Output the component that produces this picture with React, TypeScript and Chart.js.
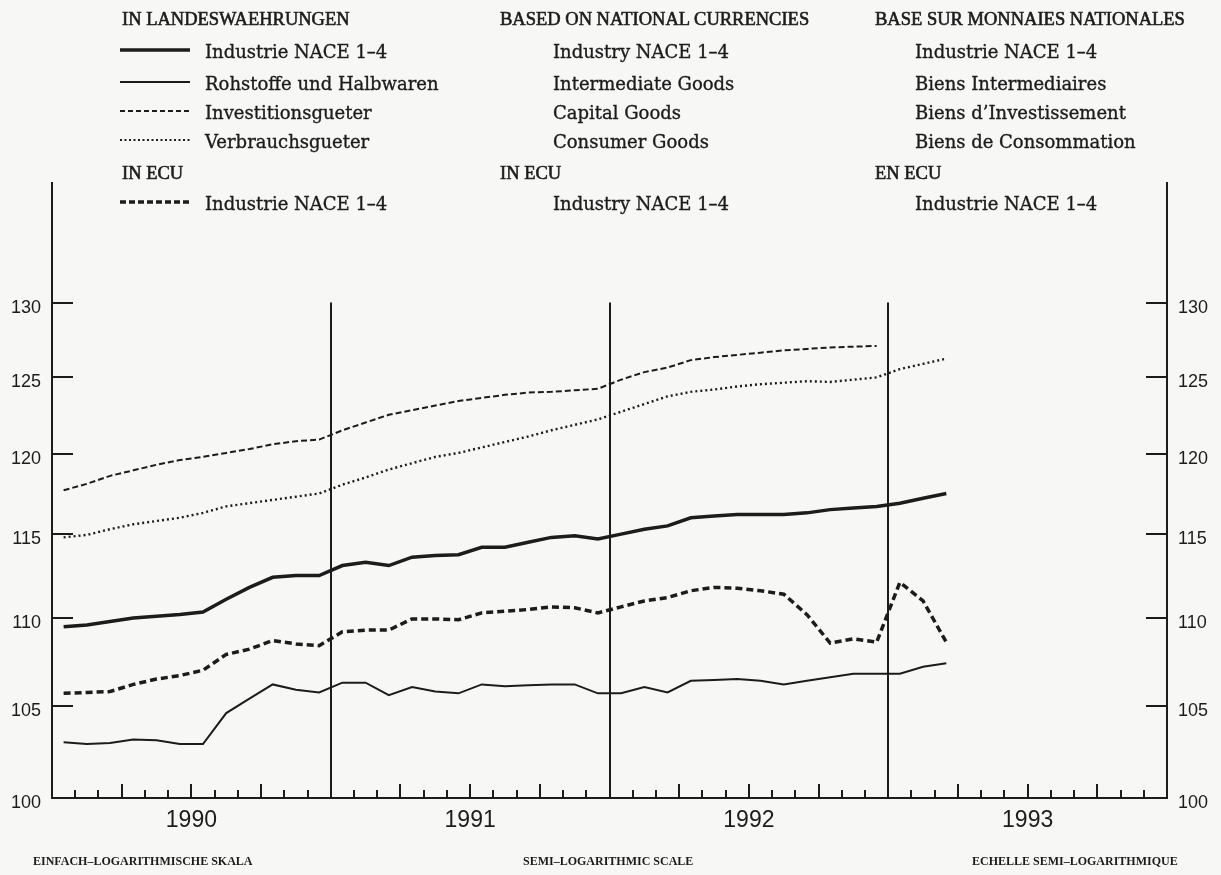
import React, { useEffect, useRef } from 'react';
import { Chart, registerables } from 'chart.js';

Chart.register(...registerables);

// ---------- data (monthly, Jan 1990 onwards) ----------
const years = ['1990', '1991', '1992', '1993'];
const yTicks = [100, 105, 110, 115, 120, 125, 130];

const industrie = [
  109.5, 109.6, 109.8, 110.0, 110.1, 110.2, 110.35, 111.1, 111.8, 112.4, 112.5, 112.5,
  113.1, 113.3, 113.1, 113.6, 113.7, 113.75, 114.2, 114.2, 114.5, 114.8, 114.9, 114.7,
  115.0, 115.3, 115.5, 116.0, 116.1, 116.2, 116.2, 116.2, 116.3, 116.5, 116.6, 116.7,
  116.9, 117.2, 117.5,
];
const rohstoffe = [
  103.0, 102.9, 102.95, 103.15, 103.1, 102.9, 102.9, 104.6, 105.4, 106.2, 105.9, 105.75,
  106.3, 106.3, 105.6, 106.05, 105.8, 105.7, 106.2, 106.1, 106.15, 106.2, 106.2, 105.7,
  105.7, 106.05, 105.75, 106.4, 106.45, 106.5, 106.4, 106.2, 106.4, 106.6, 106.8, 106.8,
  106.8, 107.2, 107.4,
];
const investition = [
  117.7, 118.1, 118.6, 118.95, 119.3, 119.6, 119.8, 120.05, 120.3, 120.6, 120.8, 120.9,
  121.5, 122.0, 122.5, 122.8, 123.1, 123.4, 123.6, 123.8, 123.95, 124.0, 124.1, 124.2,
  124.8, 125.3, 125.6, 126.1, 126.3, 126.45, 126.6, 126.75, 126.85, 126.95, 127.0, 127.05,
];
const verbrauch = [
  114.8, 114.95, 115.3, 115.6, 115.8, 116.0, 116.3, 116.7, 116.9, 117.1, 117.3, 117.5,
  118.05, 118.5, 119.0, 119.4, 119.8, 120.05, 120.4, 120.75, 121.1, 121.5, 121.85, 122.2,
  122.7, 123.2, 123.7, 124.0, 124.15, 124.35, 124.5, 124.6, 124.7, 124.65, 124.8, 124.95,
  125.5, 125.85, 126.2,
];
const ecu = [
  105.7, 105.75, 105.8, 106.2, 106.5, 106.7, 107.0, 107.9, 108.2, 108.7, 108.5, 108.4,
  109.2, 109.3, 109.3, 109.95, 109.95, 109.9, 110.3, 110.4, 110.5, 110.65, 110.6, 110.3,
  110.65, 111.0, 111.2, 111.6, 111.8, 111.75, 111.6, 111.4, 110.2, 108.55, 108.8, 108.6,
  112.1, 111.0, 108.6,
];

const headingsDE = ['IN LANDESWAEHRUNGEN', 'IN ECU'];
const headingsEN = ['BASED ON NATIONAL CURRENCIES', 'IN ECU'];
const headingsFR = ['BASE SUR MONNAIES NATIONALES', 'EN ECU'];
const itemsDE = ['Industrie NACE 1\u20134', 'Rohstoffe und Halbwaren', 'Investitionsgueter', 'Verbrauchsgueter', 'Industrie NACE 1\u20134'];
const itemsEN = ['Industry NACE 1\u20134', 'Intermediate Goods', 'Capital Goods', 'Consumer Goods', 'Industry NACE 1\u20134'];
const itemsFR = ['Industrie NACE 1\u20134', 'Biens Intermediaires', 'Biens d\u2019Investissement', 'Biens de Consommation', 'Industrie NACE 1\u20134'];
const captions = ['EINFACH\u2013LOGARITHMISCHE SKALA', 'SEMI\u2013LOGARITHMIC SCALE', 'ECHELLE SEMI\u2013LOGARITHMIQUE'];

const INK = '#1c1c1c';
const W = 1221;
const H = 875;

const toPoints = (arr: number[]) => arr.map((v, i) => ({ x: i + 0.5, y: v }));

const decorPlugin = {
  id: 'decor',
  afterDatasetsDraw(chart: any) {
    const { ctx, chartArea, scales } = chart;
    const x = scales.x;
    const y = scales.y;
    ctx.save();
    ctx.strokeStyle = INK;
    ctx.lineWidth = 2;
    const bottom = chartArea.bottom;
    for (let k = 1; k < 48; k++) {
      const px = Math.round(x.getPixelForValue(k));
      let top: number;
      if (k % 12 === 0) top = y.getPixelForValue(130);
      else if (k % 3 === 0) top = bottom - 14;
      else top = bottom - 8;
      ctx.beginPath();
      ctx.moveTo(px, bottom);
      ctx.lineTo(px, top);
      ctx.stroke();
    }
    yTicks.forEach((v) => {
      if (v === 100) return;
      const py = Math.round(y.getPixelForValue(v));
      ctx.beginPath();
      ctx.moveTo(chartArea.left, py);
      ctx.lineTo(chartArea.left + 21, py);
      ctx.moveTo(chartArea.right, py);
      ctx.lineTo(chartArea.right - 21, py);
      ctx.stroke();
    });
    ctx.restore();
  },
};

function yScale(position: 'left' | 'right', width: number) {
  return {
    type: 'logarithmic',
    position,
    min: 100,
    max: 138.5,
    afterBuildTicks: (s: any) => {
      s.ticks = yTicks.map((v) => ({ value: v }));
    },
    afterFit: (s: any) => {
      s.width = width;
    },
    ticks: {
      autoSkip: false,
      padding: 11,
      labelOffset: 5,
      color: INK,
      font: { family: 'Liberation Sans', size: 18 },
      callback: (v: any) => String(v),
    },
    grid: { display: false, drawTicks: false },
    border: { display: true, color: INK, width: 2 },
  };
}

const ChartCanvas: React.FC = () => {
  const ref = useRef<HTMLCanvasElement | null>(null);
  useEffect(() => {
    if (!ref.current) return;
    const line = (data: number[], width: number, dash: number[]) => ({
      data: toPoints(data),
      borderColor: INK,
      borderWidth: width,
      borderDash: dash,
      pointRadius: 0,
      tension: 0,
      fill: false,
    });
    const chart = new Chart(ref.current, {
      type: 'line',
      data: {
        datasets: [
          line(industrie, 3.5, []),
          line(rohstoffe, 2, []),
          line(investition, 2, [6, 3]),
          line(verbrauch, 2.4, [2, 3]),
          line(ecu, 3.5, [7, 4]),
        ],
      },
      options: {
        animation: false,
        responsive: false,
        layout: { padding: { top: 183, left: 0, right: 0, bottom: 0 } },
        plugins: { legend: { display: false }, tooltip: { enabled: false } },
        scales: {
          x: {
            type: 'linear',
            min: 0,
            max: 48,
            afterBuildTicks: (s: any) => {
              s.ticks = years.map((_, i) => ({ value: i * 12 + 6 }));
            },
            afterFit: (s: any) => {
              s.height = 77;
            },
            ticks: {
              autoSkip: false,
              maxRotation: 0,
              padding: 9,
              color: INK,
              font: { family: 'Liberation Sans', size: 23 },
              callback: (_v: any, i: number) => years[i],
            },
            grid: { display: false, drawTicks: false },
            border: { display: true, color: INK, width: 2 },
          },
          y: yScale('left', 52) as any,
          y2: yScale('right', 54) as any,
        },
      } as any,
      plugins: [decorPlugin],
    });
    return () => chart.destroy();
  }, []);
  return <canvas ref={ref} width={W} height={H} style={{ position: 'absolute', left: 0, top: 0 }} />;
};

const rowsY = [19, 52, 84, 113, 142, 173, 204];

const Text: React.FC<{ x: number; y: number; children: React.ReactNode; heading?: boolean }> = ({ x, y, children, heading }) => (
  <div
    style={{
      position: 'absolute',
      left: x,
      top: y,
      transform: 'translateY(-50%)',
      whiteSpace: 'nowrap',
      fontFamily: heading ? 'Liberation Serif' : 'DejaVu Serif',
      fontSize: heading ? 18.5 : 18,
      lineHeight: '22px',
      color: INK,
      WebkitTextStroke: heading ? '0.6px ' + INK : '0.35px ' + INK,
    }}
  >
    {children}
  </div>
);

const Sample: React.FC<{ y: number; width: number; dash?: string }> = ({ y, width, dash }) => (
  <svg style={{ position: 'absolute', left: 120, top: y - 5 }} width={72} height={10}>
    <line x1={0} y1={5} x2={70} y2={5} stroke={INK} strokeWidth={width} strokeDasharray={dash} />
  </svg>
);

const Column: React.FC<{ hx: number; ix: number; heads: string[]; items: string[] }> = ({ hx, ix, heads, items }) => (
  <>
    <Text x={hx} y={rowsY[0]} heading>{heads[0]}</Text>
    {items.slice(0, 4).map((t, i) => (
      <Text key={i} x={ix} y={rowsY[i + 1]}>{t}</Text>
    ))}
    <Text x={hx} y={rowsY[5]} heading>{heads[1]}</Text>
    <Text x={ix} y={rowsY[6]}>{items[4]}</Text>
  </>
);

export default function App() {
  return (
    <div style={{ position: 'absolute', left: 0, top: 0, width: W, height: H, background: '#f7f7f6', overflow: 'hidden' }}>
      <ChartCanvas />
      <Column hx={122} ix={205} heads={headingsDE} items={itemsDE} />
      <Column hx={500} ix={553} heads={headingsEN} items={itemsEN} />
      <Column hx={875} ix={915} heads={headingsFR} items={itemsFR} />
      <Sample y={rowsY[1] - 2} width={3.5} />
      <Sample y={rowsY[2] - 2} width={2} />
      <Sample y={rowsY[3] - 2} width={1.8} dash="5 3" />
      <Sample y={rowsY[4] - 2} width={1.8} dash="2 2.5" />
      <Sample y={rowsY[6] - 2} width={3.5} dash="6 3" />
      {captions.map((c, i) => (
        <div
          key={i}
          style={{
            position: 'absolute',
            left: [33, 523, 972][i],
            top: 861,
            transform: 'translateY(-50%)',
            fontFamily: 'Liberation Serif',
            fontWeight: 'bold',
            fontSize: 12,
            lineHeight: '14px',
            color: INK,
            whiteSpace: 'nowrap',
          }}
        >
          {c}
        </div>
      ))}
    </div>
  );
}
